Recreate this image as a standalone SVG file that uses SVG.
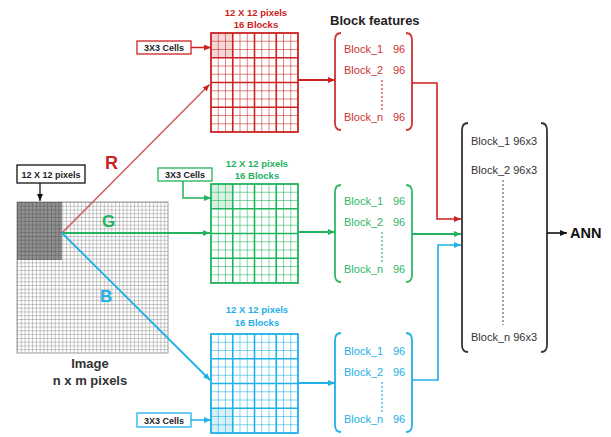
<svg xmlns="http://www.w3.org/2000/svg" xmlns:xlink="http://www.w3.org/1999/xlink" width="611" height="437" viewBox="0 0 611 437">
<style>
.t{font-family:"Liberation Sans",Arial,sans-serif}
.b{font-weight:bold}
.cell{font-family:"Liberation Sans",Arial,sans-serif;font-weight:bold;font-size:9px;fill:#222;text-anchor:middle}
.ttl{font-family:"Liberation Sans",Arial,sans-serif;font-weight:bold;font-size:9.5px;text-anchor:middle}
.bf{font-family:"Liberation Sans",Arial,sans-serif;font-size:11px}
.fine{fill:none;stroke-width:0.8;stroke-opacity:0.7}
.thick{fill:none;stroke-width:1.6}
.brk{fill:none;stroke-width:1.8}
.dot{fill:none;stroke-width:1.2;stroke-dasharray:2 2}
</style>
<defs>
<pattern id="px" patternUnits="userSpaceOnUse" x="17" y="202" width="3.775" height="3.775">
<path d="M0 0H3.775M0 0V3.775" stroke="#777" stroke-width="0.8" fill="none"/>
</pattern>
<marker id="aR" markerUnits="userSpaceOnUse" markerWidth="7" markerHeight="6" refX="7" refY="3" orient="auto"><path d="M0,0L7,3L0,6z" fill="#cc2222"/></marker>
<marker id="aG" markerUnits="userSpaceOnUse" markerWidth="7" markerHeight="6" refX="7" refY="3" orient="auto"><path d="M0,0L7,3L0,6z" fill="#22b35e"/></marker>
<marker id="aB" markerUnits="userSpaceOnUse" markerWidth="7" markerHeight="6" refX="7" refY="3" orient="auto"><path d="M0,0L7,3L0,6z" fill="#1eb0e8"/></marker>
<marker id="aK" markerUnits="userSpaceOnUse" markerWidth="7" markerHeight="6" refX="7" refY="3" orient="auto"><path d="M0,0L7,3L0,6z" fill="#111"/></marker>
<g id="grid">
<path class="fine" d="M7.25 0V99M14.5 0V99M29 0V99M36.25 0V99M50.75 0V99M58 0V99M72.5 0V99M79.75 0V99M0 8.25H87M0 16.5H87M0 33H87M0 41.25H87M0 57.75H87M0 66H87M0 82.5H87M0 90.75H87"/>
<path class="thick" d="M21.75 0V99M43.5 0V99M65.25 0V99M0 24.75H87M0 49.5H87M0 74.25H87"/>
<rect x="0" y="0" width="87" height="99" fill="none" stroke-width="1.8"/>
</g>
</defs>

<g id="image">
<rect x="17" y="202" width="151" height="151" fill="#fff"/>
<rect x="17" y="202" width="151" height="151" fill="url(#px)" stroke="#888" stroke-width="0.8"/>
<rect x="17" y="202" width="45" height="58" fill="#222" fill-opacity="0.5"/>
<text class="t b" x="90" y="368" font-size="13" fill="#333" text-anchor="middle">Image</text>
<text class="t b" x="90" y="385" font-size="13" fill="#333" text-anchor="middle">n x m pixels</text>
</g>

<g id="label-12x12">
<rect x="17" y="165" width="68" height="18" fill="#fff" stroke="#111" stroke-width="1.3"/>
<text class="cell" x="51" y="177.5">12 X 12 pixels</text>
</g>

<g id="red-grid">
<text class="ttl" x="256" y="15.5" fill="#cc2222">12 X 12 pixels</text>
<text class="ttl" x="256" y="28" fill="#cc2222">16 Blocks</text>
<rect x="211" y="33" width="21.75" height="24.75" fill="#cc2222" fill-opacity="0.18"/>
<use xlink:href="#grid" transform="translate(211,33)" stroke="#cc2222"/>
</g>
<g id="red-cells">
<rect x="137" y="41" width="54" height="13" fill="#fff" stroke="#cc2222" stroke-width="1.3"/>
<text class="cell" x="164" y="51">3X3 Cells</text>
</g>

<g id="green-grid">
<text class="ttl" x="257" y="167" fill="#22b35e">12 X 12 pixels</text>
<text class="ttl" x="257" y="179" fill="#22b35e">16 Blocks</text>
<rect x="211" y="184" width="21.75" height="24.75" fill="#22b35e" fill-opacity="0.18"/>
<use xlink:href="#grid" transform="translate(211,184)" stroke="#22b35e"/>
</g>
<g id="green-cells">
<rect x="158" y="168" width="54" height="13" fill="#fff" stroke="#22b35e" stroke-width="1.3"/>
<text class="cell" x="185" y="178">3X3 Cells</text>
</g>

<g id="blue-grid">
<text class="ttl" x="257" y="313" fill="#1eb0e8">12 X 12 pixels</text>
<text class="ttl" x="257" y="326" fill="#1eb0e8">16 Blocks</text>
<rect x="211" y="408.25" width="21.75" height="24.75" fill="#1eb0e8" fill-opacity="0.18"/>
<use xlink:href="#grid" transform="translate(211,334)" stroke="#1eb0e8"/>
</g>
<g id="blue-cells">
<rect x="137" y="413" width="54" height="14" fill="#fff" stroke="#1eb0e8" stroke-width="1.3"/>
<text class="cell" x="164" y="423.5">3X3 Cells</text>
</g>

<g id="block-features-title">
<text class="t b" x="330" y="25" font-size="13" fill="#222">Block features</text>
</g>

<g id="red-features" fill="#cc3333">
<path class="brk" stroke="#cc3333" d="M341 33Q335 33 335 40V123Q335 130 341 130M406 33Q412 33 412 40V123Q412 130 406 130"/>
<text class="bf" x="344" y="53">Block_1<tspan x="393">96</tspan></text>
<text class="bf" x="344" y="74">Block_2<tspan x="393">96</tspan></text>
<path class="dot" stroke="#cc3333" d="M382 80V110"/>
<text class="bf" x="344" y="121">Block_n<tspan x="393">96</tspan></text>
</g>

<g id="green-features" fill="#2fb865">
<path class="brk" stroke="#2fb865" d="M341 185Q335 185 335 192V275Q335 282 341 282M406 185Q412 185 412 192V275Q412 282 406 282"/>
<text class="bf" x="344" y="205">Block_1<tspan x="393">96</tspan></text>
<text class="bf" x="344" y="226">Block_2<tspan x="393">96</tspan></text>
<path class="dot" stroke="#2fb865" d="M382 232V262"/>
<text class="bf" x="344" y="273">Block_n<tspan x="393">96</tspan></text>
</g>

<g id="blue-features" fill="#22b0e6">
<path class="brk" stroke="#22b0e6" d="M341 333Q335 333 335 340V425Q335 432 341 432M406 333Q412 333 412 340V425Q412 432 406 432"/>
<text class="bf" x="344" y="355">Block_1<tspan x="393">96</tspan></text>
<text class="bf" x="344" y="376">Block_2<tspan x="393">96</tspan></text>
<path class="dot" stroke="#22b0e6" d="M382 382V412"/>
<text class="bf" x="344" y="423">Block_n<tspan x="393">96</tspan></text>
</g>

<g id="combined-features" fill="#333">
<path class="brk" stroke="#333" d="M468 123Q462 123 462 130V345Q462 352 468 352M541 123Q547 123 547 130V345Q547 352 541 352"/>
<text class="bf" x="471" y="145">Block_1 96x3</text>
<text class="bf" x="471" y="174">Block_2 96x3</text>
<path class="dot" stroke="#666" d="M503 180V325"/>
<text class="bf" x="471" y="341">Block_n 96x3</text>
</g>

<g id="ann">
<text class="t b" x="570" y="238" font-size="14.5" fill="#111">ANN</text>
</g>

<g id="rgb-labels">
<text class="t b" x="105" y="169" font-size="18" fill="#cc2222">R</text>
<text class="t b" x="102" y="227" font-size="17" fill="#22b35e">G</text>
<text class="t b" x="100" y="302" font-size="17" fill="#1eb0e8">B</text>
</g>

<g id="connectors" fill="none">
<path d="M40 183V201" stroke="#111" stroke-width="1.3" marker-end="url(#aK)"/>
<path d="M62 233L209.5 84.5" stroke="#d06060" stroke-width="1.6" marker-end="url(#aR)"/>
<path d="M62 233H210" stroke="#22b35e" stroke-width="1.8" marker-end="url(#aG)"/>
<path d="M62 233L210 380" stroke="#1eb0e8" stroke-width="1.8" marker-end="url(#aB)"/>
<path d="M191 47.5H211" stroke="#cc2222" stroke-width="1.5" marker-end="url(#aR)"/>
<path d="M183 181V198H211" stroke="#22b35e" stroke-width="1.5" marker-end="url(#aG)"/>
<path d="M191 420H211" stroke="#1eb0e8" stroke-width="1.5" marker-end="url(#aB)"/>
<path d="M298 80H335" stroke="#cc2222" stroke-width="1.8" marker-end="url(#aR)"/>
<path d="M298 232H335" stroke="#22b35e" stroke-width="1.8" marker-end="url(#aG)"/>
<path d="M298 383H335" stroke="#1eb0e8" stroke-width="1.8" marker-end="url(#aB)"/>
<path d="M412 83H437V219H461" stroke="#cc2222" stroke-width="1.6" marker-end="url(#aR)"/>
<path d="M412 234H461" stroke="#22b35e" stroke-width="1.8" marker-end="url(#aG)"/>
<path d="M412 380H438V245H461" stroke="#1eb0e8" stroke-width="1.6" marker-end="url(#aB)"/>
<path d="M547 233H567" stroke="#111" stroke-width="1.6" marker-end="url(#aK)"/>
</g>
</svg>
